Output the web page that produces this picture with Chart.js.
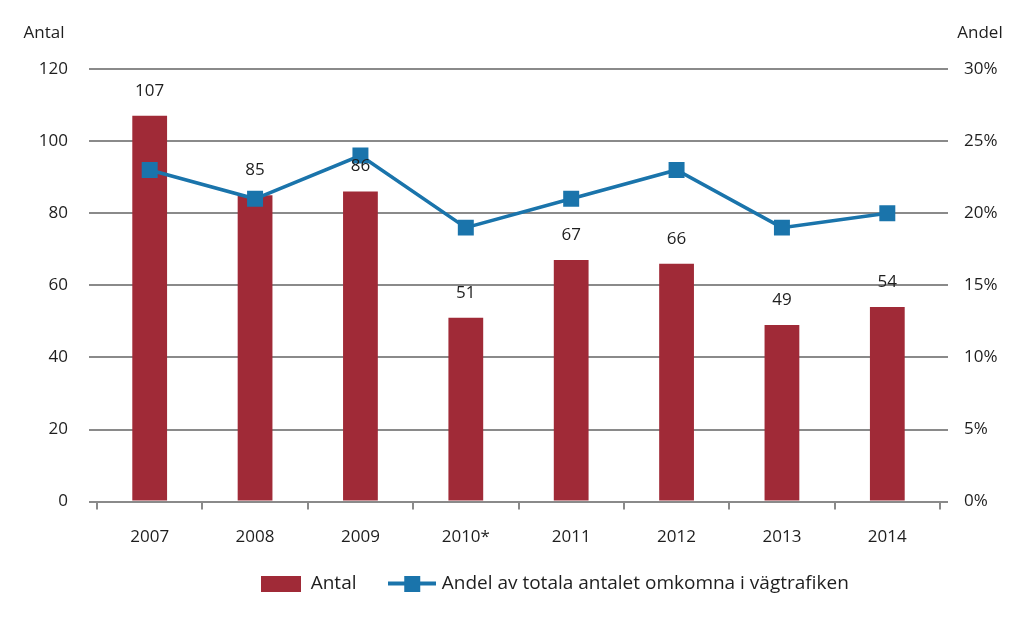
<!DOCTYPE html>
<html>
<head>
<meta charset="utf-8">
<script src="https://cdn.jsdelivr.net/npm/chart.js@4"></script>
<style>
  html, body { margin: 0; padding: 0; background: #fff; }
  #wrap { width: 1024px; height: 623px; }
</style>
</head>
<body>
<div id="wrap"><canvas id="chart" width="1024" height="623"></canvas></div>
<script>
// Chart data
const years = ['2007', '2008', '2009', '2010*', '2011', '2012', '2013', '2014'];
const antal = [107, 85, 86, 51, 67, 66, 49, 54];
const andel = [23, 21, 24, 19, 21, 23, 19, 20];

const barColor = '#a02a37';
const lineColor = '#1a74ab';
const gridColor = '#8a8a8a';
const textColor = '#1e1e1e';
const fontFamily = '"Open Sans", Lato, sans-serif';
const fontSize = 17;

// Legend symbols
function barSymbol() {
    const c = document.createElement('canvas');
    c.width = 40; c.height = 16;
    const g = c.getContext('2d');
    g.fillStyle = barColor;
    g.fillRect(0, 0, 40, 16);
    return c;
}

function lineSymbol() {
    const c = document.createElement('canvas');
    c.width = 48; c.height = 16;
    const g = c.getContext('2d');
    g.fillStyle = lineColor;
    g.fillRect(0, 6, 48, 4);
    g.fillRect(16, 0, 16, 16);
    return c;
}

// Labels above bars + axis titles
const extras = {
    id: 'extras',
    afterLayout(chart) {
        // legend sits a bit right of centre in the original
        if (chart.legend) {
            chart.legend.left += 43;
            chart.legend.right += 43;
        }
    },
    afterDatasetsDraw(chart) {
        const ctx = chart.ctx;
        ctx.save();
        ctx.font = fontSize + 'px ' + fontFamily;
        ctx.fillStyle = textColor;
        ctx.textAlign = 'center';
        ctx.textBaseline = 'middle';
        chart.getDatasetMeta(1).data.forEach((bar, i) => {
            ctx.fillText(String(antal[i]), bar.x, bar.y - 25);
        });
        ctx.fillText('Antal', 44, 33);
        ctx.fillText('Andel', 980, 33);
        ctx.restore();
    }
};

const ctx = document.getElementById('chart').getContext('2d');
new Chart(ctx, {
    data: {
        labels: years,
        datasets: [{
            type: 'line',
            label: 'Andel av totala antalet omkomna i vägtrafiken',
            data: andel,
            yAxisID: 'y1',
            borderColor: lineColor,
            backgroundColor: lineColor,
            borderWidth: 3.5,
            pointStyle: 'rect',
            pointRadius: 11.3,
            pointHoverRadius: 11.3,
            pointBackgroundColor: lineColor,
            pointBorderWidth: 0,
            tension: 0,
            order: 0
        }, {
            type: 'bar',
            label: 'Antal',
            data: antal,
            yAxisID: 'y',
            backgroundColor: barColor,
            barPercentage: 0.66,
            categoryPercentage: 0.5,
            order: 1
        }]
    },
    options: {
        responsive: false,
        animation: false,
        events: [],
        layout: { padding: { top: 69, left: 0, right: 0, bottom: 20 } },
        plugins: {
            tooltip: { enabled: false },
            legend: {
                position: 'bottom',
                labels: {
                    usePointStyle: true,
                    pointStyleWidth: 40,
                    color: textColor,
                    font: { family: fontFamily, size: 19 },
                    padding: 16,
                    generateLabels(chart) {
                        return [
                            { text: 'Antal    ', pointStyle: barSymbol(), datasetIndex: 1, fontColor: textColor, lineWidth: 0, hidden: false },
                            { text: 'Andel av totala antalet omkomna i vägtrafiken', pointStyle: lineSymbol(), datasetIndex: 0, fontColor: textColor, lineWidth: 0, hidden: false }
                        ];
                    }
                }
            }
        },
        scales: {
            x: {
                offset: true,
                afterFit(scale) { scale.height -= 6; },
                grid: {
                    offset: true,
                    drawOnChartArea: false,
                    drawTicks: true,
                    tickLength: 8,
                    color: gridColor,
                    lineWidth: 2
                },
                border: { display: true, color: gridColor, width: 2 },
                ticks: {
                    color: textColor,
                    font: { family: fontFamily, size: fontSize },
                    padding: 17,
                    maxRotation: 0
                }
            },
            y: {
                position: 'left',
                min: 0,
                max: 120,
                afterFit(scale) { scale.width = 97; },
                grid: {
                    color: gridColor,
                    lineWidth: 2,
                    drawTicks: true,
                    tickLength: 8
                },
                border: { display: false },
                ticks: {
                    stepSize: 20,
                    color: textColor,
                    font: { family: fontFamily, size: fontSize },
                    padding: 21
                }
            },
            y1: {
                position: 'right',
                min: 0,
                max: 30,
                afterFit(scale) { scale.width = 84; },
                grid: {
                    drawOnChartArea: false,
                    drawTicks: true,
                    tickLength: 8,
                    color: gridColor,
                    lineWidth: 2
                },
                border: { display: false },
                ticks: {
                    stepSize: 5,
                    color: textColor,
                    font: { family: fontFamily, size: fontSize },
                    padding: 16,
                    callback: v => v + '%'
                }
            }
        }
    },
    plugins: [extras]
});
</script>
</body>
</html>
